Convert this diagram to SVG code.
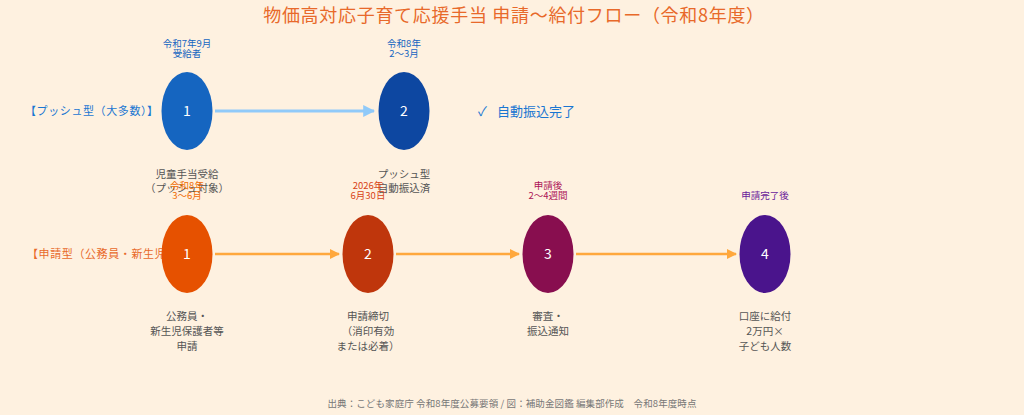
<svg xmlns="http://www.w3.org/2000/svg" width="1024" height="415" viewBox="0 0 1024 415">
<defs>
<style>
text{font-family:"Noto Sans CJK JP","Noto Sans",sans-serif}
.title{font-size:18px;fill:#E8692A;text-anchor:middle;letter-spacing:0.7px}
.num{font-size:14px;fill:#ffffff;text-anchor:middle}
.top{font-size:9.5px;text-anchor:middle}
.bot{font-size:10.5px;fill:#555555;text-anchor:middle}
.lane{font-size:11px;letter-spacing:0.6px}
.foot{font-size:9.5px;fill:#777777;text-anchor:middle;letter-spacing:0.1px}
.pa{stroke:#90CAF9;stroke-width:3;fill:none}
.aa{stroke:#FFA83D;stroke-width:2.5;fill:none}
</style>
<marker id="mb" viewBox="0 0 10 10" refX="9" refY="5" markerWidth="4" markerHeight="4" orient="auto"><path d="M0,0L10,5L0,10z" fill="#90CAF9"/></marker>
<marker id="mo" viewBox="0 0 10 10" refX="9" refY="5" markerWidth="4" markerHeight="4" orient="auto"><path d="M0,0L10,5L0,10z" fill="#FFA83D"/></marker>
</defs>
<rect width="1024" height="415" fill="#FEF1E0"/>
<text class="title" x="514" y="22">物価高対応子育て応援手当 申請〜給付フロー（令和8年度）</text>

<text class="lane" x="25" y="115" fill="#1976D2">【プッシュ型（大多数）】</text>
<text class="lane" x="27" y="258" fill="#E8692A">【申請型（公務員・新生児</text>

<g id="connectors">
<line class="pa" x1="215" y1="111" x2="374" y2="111" marker-end="url(#mb)"/>
<line class="aa" x1="215" y1="254" x2="339" y2="254" marker-end="url(#mo)"/>
<line class="aa" x1="396" y1="254" x2="519" y2="254" marker-end="url(#mo)"/>
<line class="aa" x1="576" y1="254" x2="736" y2="254" marker-end="url(#mo)"/>
</g>

<g id="push1">
<text class="top" x="187" y="47" fill="#1565C0">令和7年9月</text>
<text class="top" x="187" y="57" fill="#1565C0">受給者</text>
<ellipse cx="187" cy="111" rx="25.5" ry="39" fill="#1565C0"/>
<text class="num" x="187" y="116">1</text>
<text class="bot" x="187" y="178">児童手当受給</text>
<text class="bot" x="187" y="192">（プッシュ対象）</text>
</g>
<g id="push2">
<text class="top" x="404" y="47" fill="#1565C0">令和8年</text>
<text class="top" x="404" y="57" fill="#1565C0">2〜3月</text>
<ellipse cx="404" cy="111" rx="25.5" ry="39" fill="#0D47A1"/>
<text class="num" x="404" y="116">2</text>
<text class="bot" x="404" y="178">プッシュ型</text>
<text class="bot" x="404" y="192">自動振込済</text>
</g>
<g id="pushDone">
<text x="478" y="116" font-size="13" fill="#1976D2">✓</text>
<text x="497" y="116" font-size="13" fill="#1976D2">自動振込完了</text>
</g>

<g id="apply1">
<text class="top" x="187" y="189" fill="#EF6C00">令和8年</text>
<text class="top" x="187" y="199" fill="#EF6C00">3〜6月</text>
<ellipse cx="187" cy="254" rx="25.5" ry="39" fill="#E65100"/>
<text class="num" x="187" y="259">1</text>
<text class="bot" x="187" y="320">公務員・</text>
<text class="bot" x="187" y="335">新生児保護者等</text>
<text class="bot" x="187" y="350">申請</text>
</g>
<g id="apply2">
<text class="top" x="368" y="189" fill="#D84315">2026年</text>
<text class="top" x="368" y="199" fill="#D84315">6月30日</text>
<ellipse cx="368" cy="254" rx="25.5" ry="39" fill="#BF360C"/>
<text class="num" x="368" y="259">2</text>
<text class="bot" x="368" y="320">申請締切</text>
<text class="bot" x="368" y="335">（消印有効</text>
<text class="bot" x="368" y="350">または必着）</text>
</g>
<g id="apply3">
<text class="top" x="548" y="189" fill="#AD1457">申請後</text>
<text class="top" x="548" y="199" fill="#AD1457">2〜4週間</text>
<ellipse cx="548" cy="254" rx="25.5" ry="39" fill="#880E4F"/>
<text class="num" x="548" y="259">3</text>
<text class="bot" x="548" y="320">審査・</text>
<text class="bot" x="548" y="335">振込通知</text>
</g>
<g id="apply4">
<text class="top" x="765" y="199" fill="#6A1B9A">申請完了後</text>
<ellipse cx="765" cy="254" rx="25.5" ry="39" fill="#4A148C"/>
<text class="num" x="765" y="259">4</text>
<text class="bot" x="765" y="320">口座に給付</text>
<text class="bot" x="765" y="335">2万円×</text>
<text class="bot" x="765" y="350">子ども人数</text>
</g>

<text class="foot" x="512" y="407">出典：こども家庭庁 令和8年度公募要領 / 図：補助金図鑑 編集部作成　令和8年度時点</text>
</svg>
